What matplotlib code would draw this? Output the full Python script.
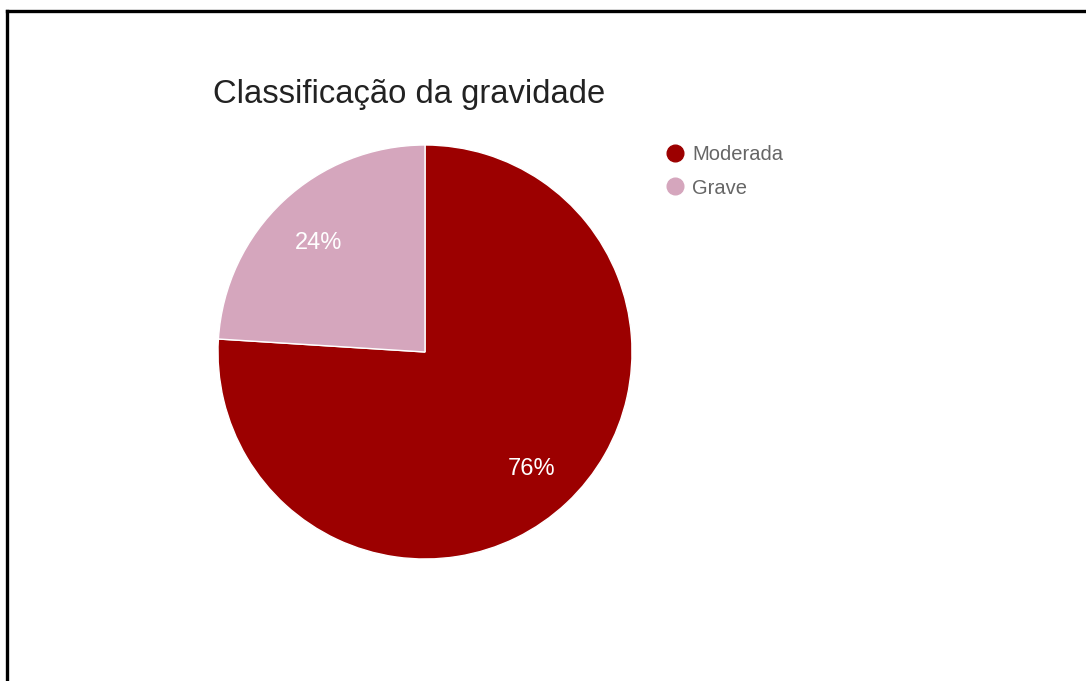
import matplotlib.pyplot as plt
from matplotlib.lines import Line2D

# data
labels = ['Moderada', 'Grave']
values = [76, 24]
colors = ['#9c0000', '#d5a6bd']
title = 'Classificação da gravidade'

plt.rcParams['font.family'] = ['Liberation Sans', 'DejaVu Sans']

W, H = 1086, 681
fig = plt.figure(figsize=(W / 100, H / 100), dpi=100)

# pie axes (square in pixels)
cx, cy, r = 425, 352, 207
ax = fig.add_axes([(cx - r) / W, 1 - (cy + r) / H, 2 * r / W, 2 * r / H])
wedges, texts, autotexts = ax.pie(
    values, colors=colors, startangle=90, counterclock=False,
    autopct='%1.0f%%', pctdistance=0.75,
    wedgeprops=dict(edgecolor='white', linewidth=1),
    textprops=dict(color='white', fontsize=17))
# nudge percentage labels a little lower, like the original
for t in autotexts:
    x, y = t.get_position()
    t.set_position((x, y - 0.02))
ax.set_xlim(-1, 1)
ax.set_ylim(-1, 1)
ax.set_aspect('equal')

# title
fig.text(213 / W, 1 - 103 / H, title, fontsize=23.6, color='#222222',
         ha='left', va='baseline')

# legend with circle markers
handles = [Line2D([], [], marker='o', linestyle='', markersize=12,
                  markerfacecolor=c, markeredgecolor=c) for c in colors]
fig.legend(handles, labels, loc='upper left',
           bbox_to_anchor=(665 / W, 1 - 145 / H), frameon=False,
           fontsize=14.5, labelcolor='#666666', handlelength=1.0,
           handletextpad=0.35, labelspacing=0.72, borderaxespad=0,
           borderpad=0)

# black frame on left and top
fig.add_artist(Line2D([7 / W, 7 / W], [0, 1 - 11 / H], color='black',
                      linewidth=2.4, transform=fig.transFigure))
fig.add_artist(Line2D([7 / W, 1], [1 - 11 / H, 1 - 11 / H], color='black',
                      linewidth=2.4, transform=fig.transFigure))

fig.savefig('out.png', dpi=100, facecolor='white')
